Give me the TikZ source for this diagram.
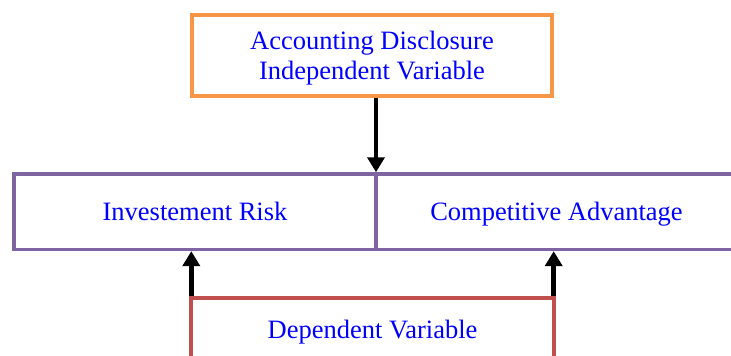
\documentclass[tikz,border=0pt]{standalone}
\usepackage{fontspec}
\setmainfont{Liberation Serif}
\usetikzlibrary{arrows.meta}
\definecolor{boxorange}{HTML}{F79646}
\definecolor{boxpurple}{HTML}{8064A2}
\definecolor{boxred}{HTML}{C0504D}
\definecolor{txtblue}{HTML}{0000FF}
\begin{document}
\begin{tikzpicture}[x=1pt,y=-1pt,
  varbox/.style={draw, rectangle, fill=white, outer sep=0pt, inner sep=0pt,
    text=txtblue, align=center, text depth=0pt, font=\fontsize{26.5}{30}\selectfont},
  conn/.style={line width=4.5pt, black, -{Triangle[length=15pt,width=17pt]},
    shorten >=1.8pt, shorten <=1.8pt}]
\useasboundingbox (0,0) rectangle (731,356);
\clip (0,0) rectangle (731,356);
\node[varbox, line width=4pt, draw=boxorange, minimum width=360pt, minimum height=81pt]
  (ad) at (372,55.3) {Accounting Disclosure\\Independent Variable};
\node[varbox, line width=3.6pt, draw=boxpurple, minimum width=362pt, minimum height=75.3pt]
  (ir) at (195,211.7) {Investement Risk};
\node[varbox, line width=3.6pt, draw=boxpurple, minimum width=361pt, minimum height=75.3pt]
  (ca) at (556.5,211.7) {Competitive Advantage};
\node[varbox, line width=4pt, draw=boxred, minimum width=362.4pt, minimum height=63pt]
  (dv) at (372.5,329.3) {Dependent Variable};
\draw[conn] (ad.south -| ir.north east) -- (ir.north east);
\draw[conn] (dv.north west) -- (dv.north west |- ir.south);
\draw[conn] (dv.north east) -- (dv.north east |- ca.south);
\end{tikzpicture}
\end{document}
